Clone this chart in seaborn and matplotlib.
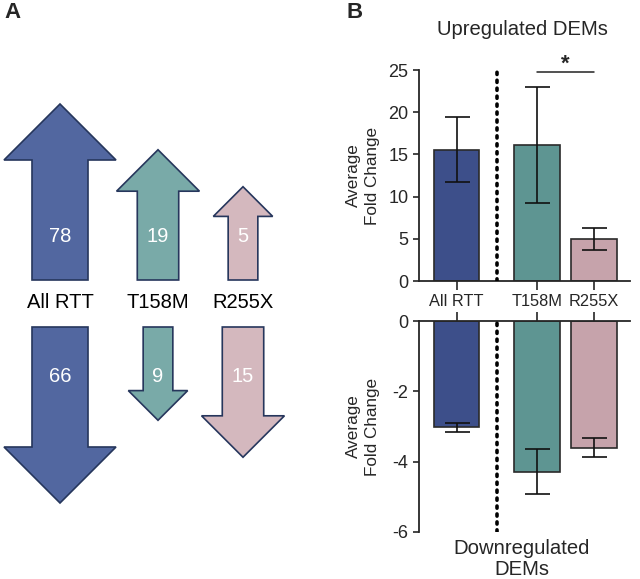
import matplotlib
matplotlib.use("Agg")
import matplotlib.pyplot as plt
from matplotlib.patches import Polygon
import seaborn as sns
import pandas as pd
import numpy as np

# ---------------- data ----------------
groups = ["All RTT", "T158M", "R255X"]
up_counts = [78, 19, 5]
down_counts = [66, 9, 15]

up_mean = [15.5, 16.1, 4.95]
up_err_low = [11.7, 9.3, 3.7]
up_err_high = [19.4, 23.0, 6.3]

down_mean = [-3.02, -4.28, -3.6]
down_err_low = [-3.15, -4.92, -3.88]
down_err_high = [-2.9, -3.65, -3.32]

up_ticks = [0, 5, 10, 15, 20, 25]
down_ticks = [0, -2, -4, -6]

# ---------------- style ----------------
arrow_colors = ["#5267A0", "#79AAA8", "#D4B8BE"]
bar_colors = ["#3D4F8A", "#5E9592", "#C6A3AB"]
arrow_edge = "#26365C"
bar_pos = [0.0, 1.41, 2.41]          # category positions (gap after All RTT)
divider_x = 0.71

sns.set_style("ticks")
plt.rcParams["font.family"] = ["Liberation Sans", "DejaVu Sans"]
plt.rcParams["axes.linewidth"] = 1.3
plt.rcParams["axes.unicode_minus"] = False

fig = plt.figure(figsize=(6.4, 5.79), dpi=100)
W, H = 640, 579

# ---------------- Panel A: arrows ----------------
axA = fig.add_axes([0, 0, 360 / W, 1])
axA.set_xlim(0, 360)
axA.set_ylim(H, 0)
axA.axis("off")

arrow_x = [60, 158, 243]
scale_by_rank = [0.53, 0.74, 1.0]
L0, HL0, HW0, SW0 = 176, 56, 56, 28


def draw_arrow(ax, x, base, s, direction, color):
    L, hl, hw, sw = L0 * s, HL0 * s, HW0 * s, SW0 * s
    d = -1 if direction == "up" else 1
    yb = base
    yh = base + d * (L - hl)
    yt = base + d * L
    pts = [(x - sw, yb), (x - sw, yh), (x - hw, yh), (x, yt),
           (x + hw, yh), (x + sw, yh), (x + sw, yb)]
    ax.add_patch(Polygon(pts, closed=True, facecolor=color,
                         edgecolor=arrow_edge, linewidth=1.2, joinstyle="miter"))


up_rank = np.argsort(np.argsort(up_counts))
down_rank = np.argsort(np.argsort(down_counts))
for i, g in enumerate(groups):
    draw_arrow(axA, arrow_x[i], 280, scale_by_rank[up_rank[i]], "up", arrow_colors[i])
    draw_arrow(axA, arrow_x[i], 327, scale_by_rank[down_rank[i]], "down", arrow_colors[i])
    axA.text(arrow_x[i], 236, str(up_counts[i]), color="white", fontsize=14.5,
             ha="center", va="center")
    axA.text(arrow_x[i], 376, str(down_counts[i]), color="white", fontsize=14.5,
             ha="center", va="center")
    axA.text(arrow_x[i], 303, g, color="black", fontsize=14.5,
             ha="center", va="center")

fig.text(4 / W, 1 - 13 / H, "A", fontsize=16, fontweight="bold", ha="left", va="center")
fig.text(347 / W, 1 - 13 / H, "B", fontsize=16, fontweight="bold", ha="left", va="center")

# ---------------- Panel B: bars ----------------
left, right = 419, 630
top_t, top_b = 70, 281
bot_t, bot_b = 321, 532
xlim = (-0.66, 3.04)

ax_up = fig.add_axes([left / W, 1 - top_b / H, (right - left) / W, (top_b - top_t) / H])
ax_dn = fig.add_axes([left / W, 1 - bot_b / H, (right - left) / W, (bot_b - bot_t) / H])

df_up = pd.DataFrame({"pos": bar_pos, "val": up_mean, "group": groups})
df_dn = pd.DataFrame({"pos": bar_pos, "val": down_mean, "group": groups})

for ax, df, lo, hi in [(ax_up, df_up, up_err_low, up_err_high),
                       (ax_dn, df_dn, down_err_low, down_err_high)]:
    sns.barplot(data=df, x="pos", y="val", hue="group", palette=bar_colors,
                native_scale=True, legend=False, ax=ax, width=0.8, saturation=1,
                edgecolor="#2a2a2a", linewidth=1.2, errorbar=None)
    vals = np.array(df["val"])
    yerr = np.abs(np.array([vals - np.array(lo), np.array(hi) - vals]))
    ax.errorbar(df["pos"], vals, yerr=yerr, fmt="none", ecolor="#111111",
                elinewidth=1.2, capsize=9, capthick=1.2, zorder=5)
    ax.axvline(divider_x, color="black", linestyle=(0, (0.6, 1.6)),
               linewidth=2.6, dash_capstyle="round", zorder=4)
    ax.set_xlim(*xlim)
    ax.set_xlabel("")
    ax.set_ylabel("")
    ax.tick_params(axis="y", labelsize=13, length=4.5, width=1.2, pad=3)
    ax.tick_params(axis="x", labelsize=11.8, length=6.5, width=1.2, pad=3)
    ax.text(-0.265, 0.5, "Average\nFold Change", transform=ax.transAxes,
            rotation=90, ha="center", va="center", fontsize=12.3, linespacing=1.4)

# top axes
ax_up.set_ylim(0, 25)
ax_up.set_yticks(up_ticks)
ax_up.set_xticks(bar_pos, groups)
sns.despine(ax=ax_up)
ax_up.text(0.488, 1 + 41 / 211, "Upregulated DEMs", transform=ax_up.transAxes,
           fontsize=14.6, ha="center", va="center")
# significance
ax_up.plot([bar_pos[1], bar_pos[2]], [24.76, 24.76], color="#222222", lw=1.1,
           clip_on=False)
ax_up.text((bar_pos[1] + bar_pos[2]) / 2, 25.0, "*", fontsize=16, fontweight="bold",
           ha="center", va="baseline", clip_on=False)

# bottom axes
ax_dn.set_ylim(-6, 0)
ax_dn.set_yticks(down_ticks)
ax_dn.set_xticks(bar_pos, [""] * len(groups))
ax_dn.xaxis.set_ticks_position("top")
ax_dn.spines["bottom"].set_visible(False)
ax_dn.spines["right"].set_visible(False)
fig.text(522 / W, 1 - 559 / H, "Downregulated\nDEMs", fontsize=14.6,
         ha="center", va="center", linespacing=1.1)

fig.savefig("out.png", dpi=100)
